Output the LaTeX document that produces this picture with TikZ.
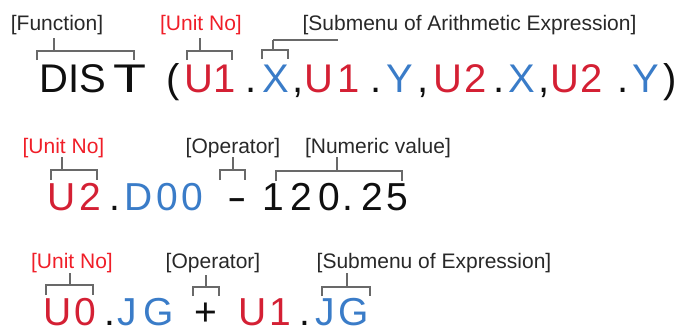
\documentclass[tikz,border=0pt]{standalone}
\usepackage{fontspec}
\setmainfont{Liberation Sans}
\definecolor{codered}{RGB}{212,32,52}
\definecolor{codeblue}{RGB}{58,124,200}
\definecolor{lblred}{RGB}{240,30,40}
\definecolor{lblgray}{RGB}{40,40,40}
\definecolor{brkgray}{RGB}{105,105,105}
\definecolor{ink}{RGB}{15,15,15}
\newcommand\mybrk[6]{%
  \draw[brk] (#1,#4) |- (#2,#3) -- (#2,#4);
  \draw[brk] (#5,#3) -- (#5,#6);}
\begin{document}
\begin{tikzpicture}[x=1pt,y=-1pt,
  lbl/.style={anchor=base,inner sep=0pt,text=lblgray,font=\fontsize{21}{24}\selectfont},
  glyph/.style={anchor=base,inner sep=0pt,font=\fontsize{40}{44}\selectfont},
  glyphb/.style={anchor=base,inner sep=0pt,font=\fontsize{39}{44}\selectfont},
  brk/.style={draw=brkgray,line width=1.3pt}]
\useasboundingbox (0,0) rectangle (680,332);

% ---------- row 1 ----------
\node[lbl] (fn1) at (57,30) {[Function]};
\node[lbl,text=lblred] (un1) at (201,30) {[Unit No]};
\node[lbl] (sm1) at (469.5,30) {[Submenu of Arithmetic Expression]};

\foreach \x/\t/\c [count=\i] in {54/D/ink, 74/I/ink, 92.5/S/ink, 173/(/ink,
  198.5/U/codered, 224.5/1/codered, 251/./ink, 276/X/codeblue, 298/{,}/ink,
  318.5/U/codered, 348.5/1/codered, 376/./ink, 400/Y/codeblue, 423/{,}/ink,
  448/U/codered, 476/2/codered, 499/./ink, 522/X/codeblue, 544/{,}/ink,
  565/U/codered, 592/2/codered, 623/./ink, 646/Y/codeblue, 670/)/ink}
  \node[glyph,text=\c] (ra\i) at (\x,92) {\t};
\node[glyph,text=ink] (raT) at (130,92) {\scalebox{1.35}[1]{T}};

\mybrk{37}{134}{51}{60}{54}{38}
\mybrk{187}{232}{51}{60}{200}{38}
\mybrk{262}{288}{50}{59}{273}{40}
\draw[brk] (273,40) -- (338,40);

% ---------- row 2 ----------
\node[lbl,text=lblred] (un2) at (63.5,153) {[Unit No]};
\node[lbl] (op2) at (233,153) {[Operator]};
\node[lbl] (nv2) at (378,153) {[Numeric value]};

\foreach \x/\t/\c [count=\i] in {61.5/U/codered, 90/2/codered, 115/./ink,
  138.5/D/codeblue, 167/0/codeblue, 192/0/codeblue,
  273.5/1/ink, 301/2/ink, 329/0/ink, 348/./ink, 372.5/2/ink, 397/5/ink}
  \node[glyphb,text=\c] (rb\i) at (\x,210) {\t};
\node[glyphb,text=ink] (rbm) at (237,210) {\scalebox{1.5}[1]{-}};

\mybrk{51}{97}{170}{180}{62}{157}
\mybrk{220}{245}{170}{180}{233}{157}
\mybrk{276}{402}{171}{181}{337}{157}

% ---------- row 3 ----------
\node[lbl,text=lblred] (un3) at (72,268) {[Unit No]};
\node[lbl] (op3) at (213,268) {[Operator]};
\node[lbl] (sm3) at (434,268) {[Submenu of Expression]};

\foreach \x/\t/\c [count=\i] in {57.5/U/codered, 85/0/codered, 110/./ink,
  127.5/J/codeblue, 159/G/codeblue, 206/+/ink,
  253/U/codered, 280.5/1/codered, 305/./ink, 325/J/codeblue, 354/G/codeblue}
  \node[glyphb,text=\c] (rc\i) at (\x,325) {\t};

\mybrk{46}{93}{285}{295}{70}{273}
\mybrk{193}{219}{287}{296}{206}{275}
\mybrk{322}{370}{287}{296}{347}{273}
\end{tikzpicture}
\end{document}
